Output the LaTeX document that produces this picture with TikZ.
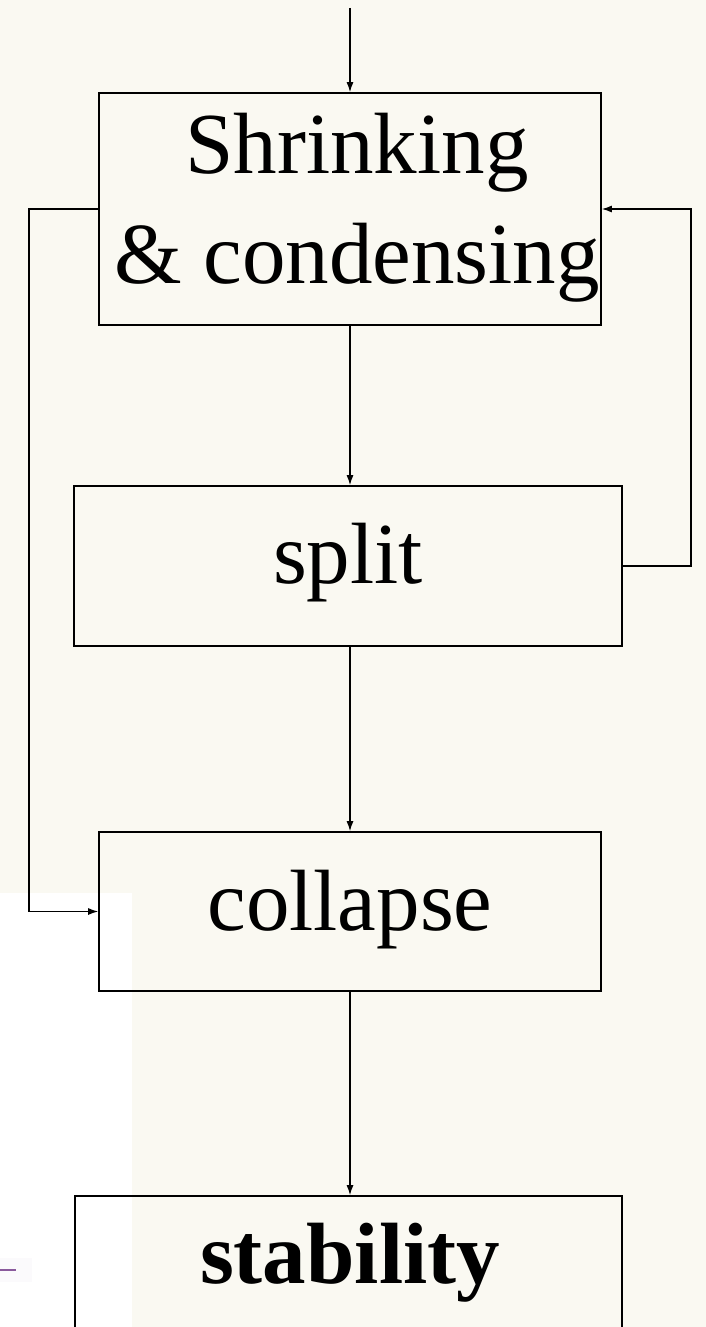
\documentclass[tikz,border=0pt]{standalone}
\usepackage{fontspec}
\setmainfont{Liberation Serif}
\usetikzlibrary{arrows.meta}
\definecolor{cream}{HTML}{FAF9F2}
\definecolor{dashpurple}{HTML}{8A5A9C}
\begin{document}
\begin{tikzpicture}[x=1pt,y=-1pt,
  box/.style={draw=black, line width=1.7pt, rectangle, inner sep=0pt, text depth=0pt,
    font=\fontsize{87}{110}\selectfont},
  label/.style={inner sep=0pt, font=\fontsize{87}{110}\selectfont},
  conn/.style={draw=black, line width=1.2pt, -{Latex[length=10pt,width=7pt]}}
]
\useasboundingbox (0,0) rectangle (706,1327);
% background
\fill[cream] (0,0) rectangle (706,1327);
\fill[white] (0,893) rectangle (132,1327);
\fill[dashpurple!3] (0,1258) rectangle (32,1282);
\draw[dashpurple, line width=2.5pt] (0,1270) -- (16,1270);

% boxes
\node[box, minimum width=502pt, minimum height=232pt] (b1) at (350,209) {};
\node[label, align=center] (t1) at (357,208) {Shrinking\\\& condensing};
\node[box, minimum width=548pt, minimum height=160pt, text height=34pt] (split) at (348,566) {split};
\node[box, minimum width=502pt, minimum height=159pt, text height=38pt] (collapse) at (350,911.5) {collapse};
\node[box, minimum width=547pt, minimum height=200pt] (stab) at (348.5,1296) {};
\node[label, anchor=base, font=\fontsize{87}{110}\selectfont\bfseries] (tstab) at (350,1283) {stability};

% coordinates
\coordinate (top) at (350,8);
\coordinate (lx) at (29,0);
\coordinate (rx) at (691,0);

% connectors
\draw[conn] (top) -- (b1.north);
\draw[conn] (b1.south) -- (b1.south |- split.north);
\draw[conn] (b1.south |- split.south) -- (b1.south |- collapse.north);
\draw[conn] (collapse.south) -- (collapse.south |- stab.north);
\draw[conn] (b1.west) -- (b1.west -| lx) |- (collapse.west);
\draw[conn] (split.east) -- (split.east -| rx) |- (b1.east);
\end{tikzpicture}
\end{document}
